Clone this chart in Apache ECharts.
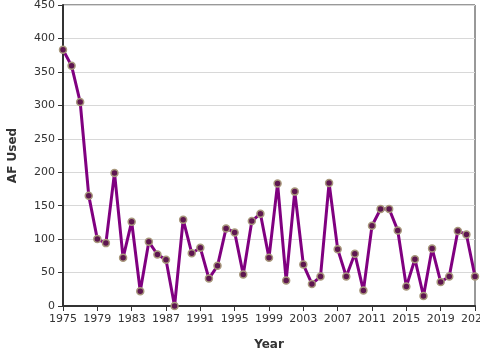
<!DOCTYPE html>
<html><head><meta charset="utf-8">
<script src="https://cdn.jsdelivr.net/npm/echarts@6/dist/echarts.min.js"></script>
<style>html,body{margin:0;padding:0;background:#fff}#c{width:480px;height:360px}</style>
</head><body><div id="c"></div>
<script>
var years = [];
for (var y = 1975; y <= 2023; y++) years.push(String(y));
var afUsed = [383, 359, 305, 165, 100, 94, 199, 72, 126, 22, 96, 77, 69, 0, 129, 79, 87, 41, 60, 116, 110, 47, 127, 138, 72, 183, 38, 171, 62, 33, 44, 184, 85, 44, 78, 23, 120, 145, 145, 113, 29, 70, 15, 86, 36, 44, 112, 107, 44];
var yTicks = [0, 50, 100, 150, 200, 250, 300, 350, 400, 450];

var chart = echarts.init(document.getElementById('c'), null, {renderer: 'canvas'});
chart.setOption({
  animation: false,
  textStyle: {fontFamily: 'DejaVu Sans'},
  grid: {left: 63, right: 5, top: 5, bottom: 54, show: true, borderColor: '#333', borderWidth: 1,
         containLabel: false, outerBoundsMode: 'none'},
  xAxis: {
    type: 'category', data: years, boundaryGap: false,
    name: 'Year', nameLocation: 'middle', nameGap: 33,
    nameTextStyle: {fontWeight: 'bold', fontSize: 12, color: '#333', fontFamily: 'DejaVu Sans'},
    axisLine: {lineStyle: {color: '#333', width: 2}},
    axisTick: {interval: 3, length: 5, lineStyle: {color: '#333'}},
    axisLabel: {interval: 3, fontSize: 11, color: '#333', margin: 8, fontFamily: 'DejaVu Sans', hideOverlap: false},
    splitLine: {show: false}
  },
  yAxis: {
    type: 'value', min: yTicks[0], max: yTicks[yTicks.length - 1], interval: 50,
    name: 'AF Used', nameLocation: 'middle', nameGap: 44,
    nameTextStyle: {fontWeight: 'bold', fontSize: 12, color: '#333', fontFamily: 'DejaVu Sans'},
    axisLine: {show: true, lineStyle: {color: '#333', width: 2}},
    axisTick: {show: true, length: 5, lineStyle: {color: '#333'}},
    axisLabel: {fontSize: 11, color: '#333', margin: 8, fontFamily: 'DejaVu Sans'},
    splitLine: {lineStyle: {color: '#d8d8d8'}}
  },
  series: [{
    type: 'line', data: afUsed, smooth: false,
    lineStyle: {color: '#800080', width: 3},
    symbol: 'circle', symbolSize: 7, showAllSymbol: true,
    itemStyle: {color: '#5e1650', borderColor: '#a8987c', borderWidth: 1.5},
    clip: false
  }]
});
</script></body></html>
